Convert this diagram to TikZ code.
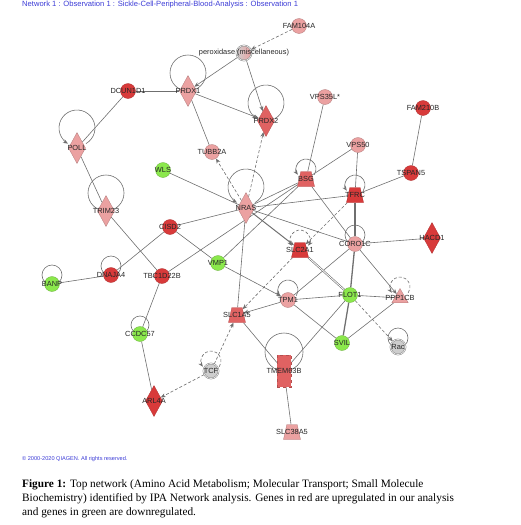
\documentclass[tikz,border=0pt]{standalone}
\usepackage{fontspec}
\setmainfont{Liberation Serif}
\setsansfont{Liberation Sans}
\usetikzlibrary{shapes.geometric,arrows.meta,backgrounds}

\definecolor{upred}{HTML}{D83A3A}
\definecolor{midred}{HTML}{E06262}
\definecolor{lowred}{HTML}{EBA1A1}
\definecolor{downgreen}{HTML}{8BE84C}
\definecolor{predgray}{HTML}{CDCDCD}
\definecolor{relgray}{HTML}{6F6F6F}
\definecolor{ipablue}{HTML}{3B3BD6}

\tikzset{
  every label/.style={font=\sffamily\fontsize{7.4}{8}\selectfont,text=black!85,inner sep=0pt},
  molecule/.style={circle,minimum size=15pt,inner sep=0pt},
  enzyme/.style={diamond,minimum width=17pt,minimum height=31pt,inner sep=0pt},
  transporter/.style={trapezium,trapezium left angle=72,trapezium right angle=72,
    trapezium stretches=true,minimum width=17pt,minimum height=15pt,inner sep=1pt},
  phosphatase/.style={regular polygon,regular polygon sides=3,minimum size=19pt,inner sep=0pt},
  channel/.style={rectangle,minimum width=14pt,minimum height=32pt,inner sep=0pt},
  upreg/.style={fill=upred,draw=upred!80!black,line width=0.3pt},
  midreg/.style={fill=midred,draw=midred!80!black,line width=0.3pt},
  lowreg/.style={fill=lowred,draw=lowred!75!black,line width=0.3pt},
  downreg/.style={fill=downgreen,draw=downgreen!75!black,line width=0.3pt},
  predicted/.style={fill=predgray,draw=gray,double=predgray!50,double distance=0.8pt,line width=0.4pt},
  rel/.style={draw=relgray,line width=0.6pt},
  heavyrel/.style={draw=relgray,line width=1.3pt},
  indirect/.style={rel,dash pattern=on 3pt off 2pt},
}

\begin{document}
\begin{tikzpicture}[x=1pt,y=-1pt,>={Stealth[length=5pt,width=4pt]}]
\useasboundingbox (0,0) rectangle (520,525);

\node[anchor=west,inner sep=0pt,text=ipablue,font=\sffamily\fontsize{7.6}{8}\selectfont] (title) at (22,5) {Network 1 : Observation 1 : Sickle-Cell-Peripheral-Blood-Analysis : Observation 1};

% molecules
\node[molecule,lowreg,label={center:FAM104A}] (fam104a) at (299,26) {};
\node[molecule,predicted,left color=predgray,right color=lowred,label={center:peroxidase (miscellaneous)}] (perox) at (244,53) {};
\node[enzyme,lowreg,label={center:PRDX1}] (prdx1) at (188,91) {};
\node[molecule,upreg,label={center:DCUN1D1}] (dcun1d1) at (128,91) {};
\node[enzyme,midreg,label={center:PRDX2}] (prdx2) at (266,121) {};
\node[molecule,lowreg,label={center:VPS35L*}] (vps35l) at (325,97) {};
\node[molecule,upreg,label={center:FAM210B}] (fam210b) at (423,108) {};
\node[molecule,lowreg,label={center:VPS50}] (vps50) at (358,145) {};
\node[molecule,upreg,label={center:TSPAN5}] (tspan5) at (411,173) {};
\node[transporter,upreg,label={center:TFRC}] (tfrc) at (355,195) {};
\node[enzyme,lowreg,label={center:POLL}] (poll) at (77,148) {};
\node[enzyme,lowreg,label={center:TRIM23}] (trim23) at (106,211) {};
\node[molecule,downreg,label={center:WLS}] (wls) at (163,170) {};
\node[molecule,upreg,label={center:CISD2}] (cisd2) at (170,227) {};
\node[molecule,lowreg,label={center:TUBB2A}] (tubb2a) at (212,152) {};
\node[enzyme,lowreg,label={center:NRAS}] (nras) at (246,208) {};
\node[transporter,midreg,label={center:BSG}] (bsg) at (306,179) {};
\node[transporter,upreg,label={center:SLC2A1}] (slc2a1) at (300,250) {};
\node[molecule,lowreg,label={center:CORO1C}] (coro1c) at (355,244) {};
\node[enzyme,upreg,label={center:HACD1}] (hacd1) at (432,238) {};
\node[molecule,downreg,label={center:VMP1}] (vmp1) at (218,263) {};
\node[molecule,upreg,label={center:TBC1D22B}] (tbc1d22b) at (162,276) {};
\node[molecule,upreg,label={center:DNAJA4}] (dnaja4) at (111,275) {};
\node[molecule,downreg,label={center:BANP}] (banp) at (52,284) {};
\node[molecule,downreg,label={center:CCDC57}] (ccdc57) at (140,334) {};
\node[molecule,lowreg,label={center:TPM1}] (tpm1) at (288,300) {};
\node[molecule,downreg,label={center:FLOT1}] (flot1) at (350,295) {};
\node[phosphatase,lowreg,label={center:PPP1CB}] (ppp1cb) at (400,298) {};
\node[transporter,midreg,label={center:SLC1A5}] (slc1a5) at (237,315) {};
\node[molecule,downreg,label={center:SVIL}] (svil) at (342,343) {};
\node[molecule,predicted,label={center:Rac}] (rac) at (398,347) {};
\node[molecule,predicted,label={center:TCF}] (tcf) at (211,371) {};
\node[channel,midreg,dashed,label={center:TMEM63B}] (tmem63b) at (284,371) {};
\node[transporter,lowreg,label={center:SLC38A5}] (slc38a5) at (292,432) {};
\node[enzyme,upreg,label={center:ARL4A}] (arl4a) at (154,401) {};

% relations
\begin{pgfonlayer}{background}
\draw[rel] (dcun1d1) -- (prdx1);
\draw[rel] (dcun1d1) -- (poll);
\draw[rel] (poll) -- (trim23);
\draw[rel] (trim23) -- (tbc1d22b);
\draw[rel] (prdx1) -- (tubb2a);
\draw[rel] (wls) -- (nras);
\draw[rel] (cisd2) -- (nras);
\draw[rel] (cisd2) -- (vmp1);
\draw[rel] (cisd2) -- (dnaja4);
\draw[rel] (dnaja4) -- (banp);
\draw[rel] (tbc1d22b) -- (ccdc57);
\draw[rel] (ccdc57) -- (arl4a);
\draw[rel] (tbc1d22b) -- (bsg);
\draw[rel] (nras) -- (bsg);
\draw[rel] (nras) -- (tfrc);
\draw[rel] (nras) -- (coro1c);
\draw[rel] (nras) -- (slc1a5);
\draw[rel] (vps35l) -- (bsg);
\draw[rel] (vps50) -- (bsg);
\draw[rel] (vps50) -- (tfrc);
\draw[rel] (tspan5) -- (tfrc);
\draw[rel] (fam210b) -- (tspan5);
\draw[rel] (bsg) -- (vmp1);
\draw[rel] (bsg) -- (coro1c);
\draw[rel] (coro1c) -- (hacd1);
\draw[rel] (tpm1) -- (coro1c);
\draw[rel] (tpm1) -- (flot1);
\draw[rel] (tpm1) -- (svil);
\draw[rel] (flot1) -- (ppp1cb);
\draw[rel] (svil) -- (ppp1cb);
\draw[rel] (tmem63b) -- (flot1);
\draw[rel] (slc1a5) -- (tmem63b);
\draw[rel] (tmem63b) -- (slc38a5);
\draw[heavyrel] (tfrc) -- (coro1c);
\draw[heavyrel] (coro1c) -- (flot1);
\draw[heavyrel] (flot1) -- (svil);
\draw[rel,double=white,double distance=0.8pt] (slc2a1) -- (flot1);
\draw[rel,->] (perox) -- (prdx1);
\draw[rel,->] (perox) -- (prdx2);
\draw[rel,->] (prdx1) -- (prdx2);
\draw[heavyrel,line width=1pt,->] (nras) -- (slc2a1);
\draw[rel,->] (vmp1) -- (tpm1);
\draw[rel,->] (tpm1) -- (slc1a5);
\draw[rel,->] (coro1c) -- (ppp1cb);
\draw[indirect,->] (fam104a) -- (perox);
\draw[indirect,->] (nras) -- (tubb2a);
\draw[indirect,->] (nras) -- (prdx2);
\draw[indirect,->] (tfrc) -- (slc2a1);
\draw[indirect,->] (slc2a1) -- (slc1a5);
\draw[indirect,->] (flot1) -- (rac);
\draw[indirect,->] (tcf) -- (slc1a5);
\draw[indirect,->] (tcf) -- (arl4a);
% self loops
\draw[rel] ([yshift=18pt]prdx1.center) circle[radius=18pt];
\draw[rel] ([yshift=18pt]trim23.center) circle[radius=18pt];
\draw[rel] ([yshift=19pt]tmem63b.center) circle[radius=19pt];
\draw[rel] ([yshift=9pt]coro1c.center) circle[radius=10pt];
\draw[rel] ([yshift=9pt]rac.center) circle[radius=10pt];
\draw[rel] ([yshift=9pt]banp.center) circle[radius=10pt];
\draw[rel] ([yshift=9pt]dnaja4.center) circle[radius=10pt];
\draw[rel] ([yshift=9pt]ccdc57.center) circle[radius=9pt];
\draw[rel,->] ([yshift=18pt]prdx2.center) ++(-60:18pt) arc[start angle=-60,end angle=240,radius=18pt];
\draw[rel,->] ([yshift=20pt]poll.center) ++(-60:18pt) arc[start angle=-60,end angle=240,radius=18pt];
\draw[rel,->] ([yshift=21pt]nras.center) ++(-60:18pt) arc[start angle=-60,end angle=240,radius=18pt];
\draw[rel,->] ([yshift=10pt]bsg.center) ++(-35:10pt) arc[start angle=-35,end angle=215,radius=10pt];
\draw[rel,-{Stealth[length=5pt,width=4pt,open,fill=white]}] ([yshift=10pt]tfrc.center) ++(-35:10pt) arc[start angle=-35,end angle=215,radius=10pt];
\draw[rel,->] ([yshift=10pt]tpm1.center) ++(-35:10pt) arc[start angle=-35,end angle=215,radius=10pt];
\draw[indirect,<->] ([yshift=10pt]slc2a1.center) ++(-35:10pt) arc[start angle=-35,end angle=215,radius=10pt];
\draw[indirect,->] ([yshift=11pt]ppp1cb.center) ++(-35:10pt) arc[start angle=-35,end angle=215,radius=10pt];
\draw[indirect,->] ([yshift=10pt]tcf.center) ++(-35:10pt) arc[start angle=-35,end angle=215,radius=10pt];
\end{pgfonlayer}

% footer
\node[anchor=west,inner sep=0pt,text=ipablue,font=\sffamily\fontsize{5.6}{6}\selectfont] (copyright) at (22,459) {\textcopyright{} 2000-2020 QIAGEN. All rights reserved.};
\node[anchor=base west,inner sep=0pt,font=\fontsize{11.3}{13}\selectfont] (caption1) at (22,487) {\textbf{Figure 1:} Top network (Amino Acid Metabolism; Molecular Transport; Small Molecule};
\node[anchor=base west,inner sep=0pt,font=\fontsize{11.3}{13}\selectfont] (caption2) at (22,501) {Biochemistry) identified by IPA Network analysis. Genes in red are upregulated in our analysis};
\node[anchor=base west,inner sep=0pt,font=\fontsize{11.3}{13}\selectfont] (caption3) at (22,515) {and genes in green are downregulated.};
\end{tikzpicture}
\end{document}
